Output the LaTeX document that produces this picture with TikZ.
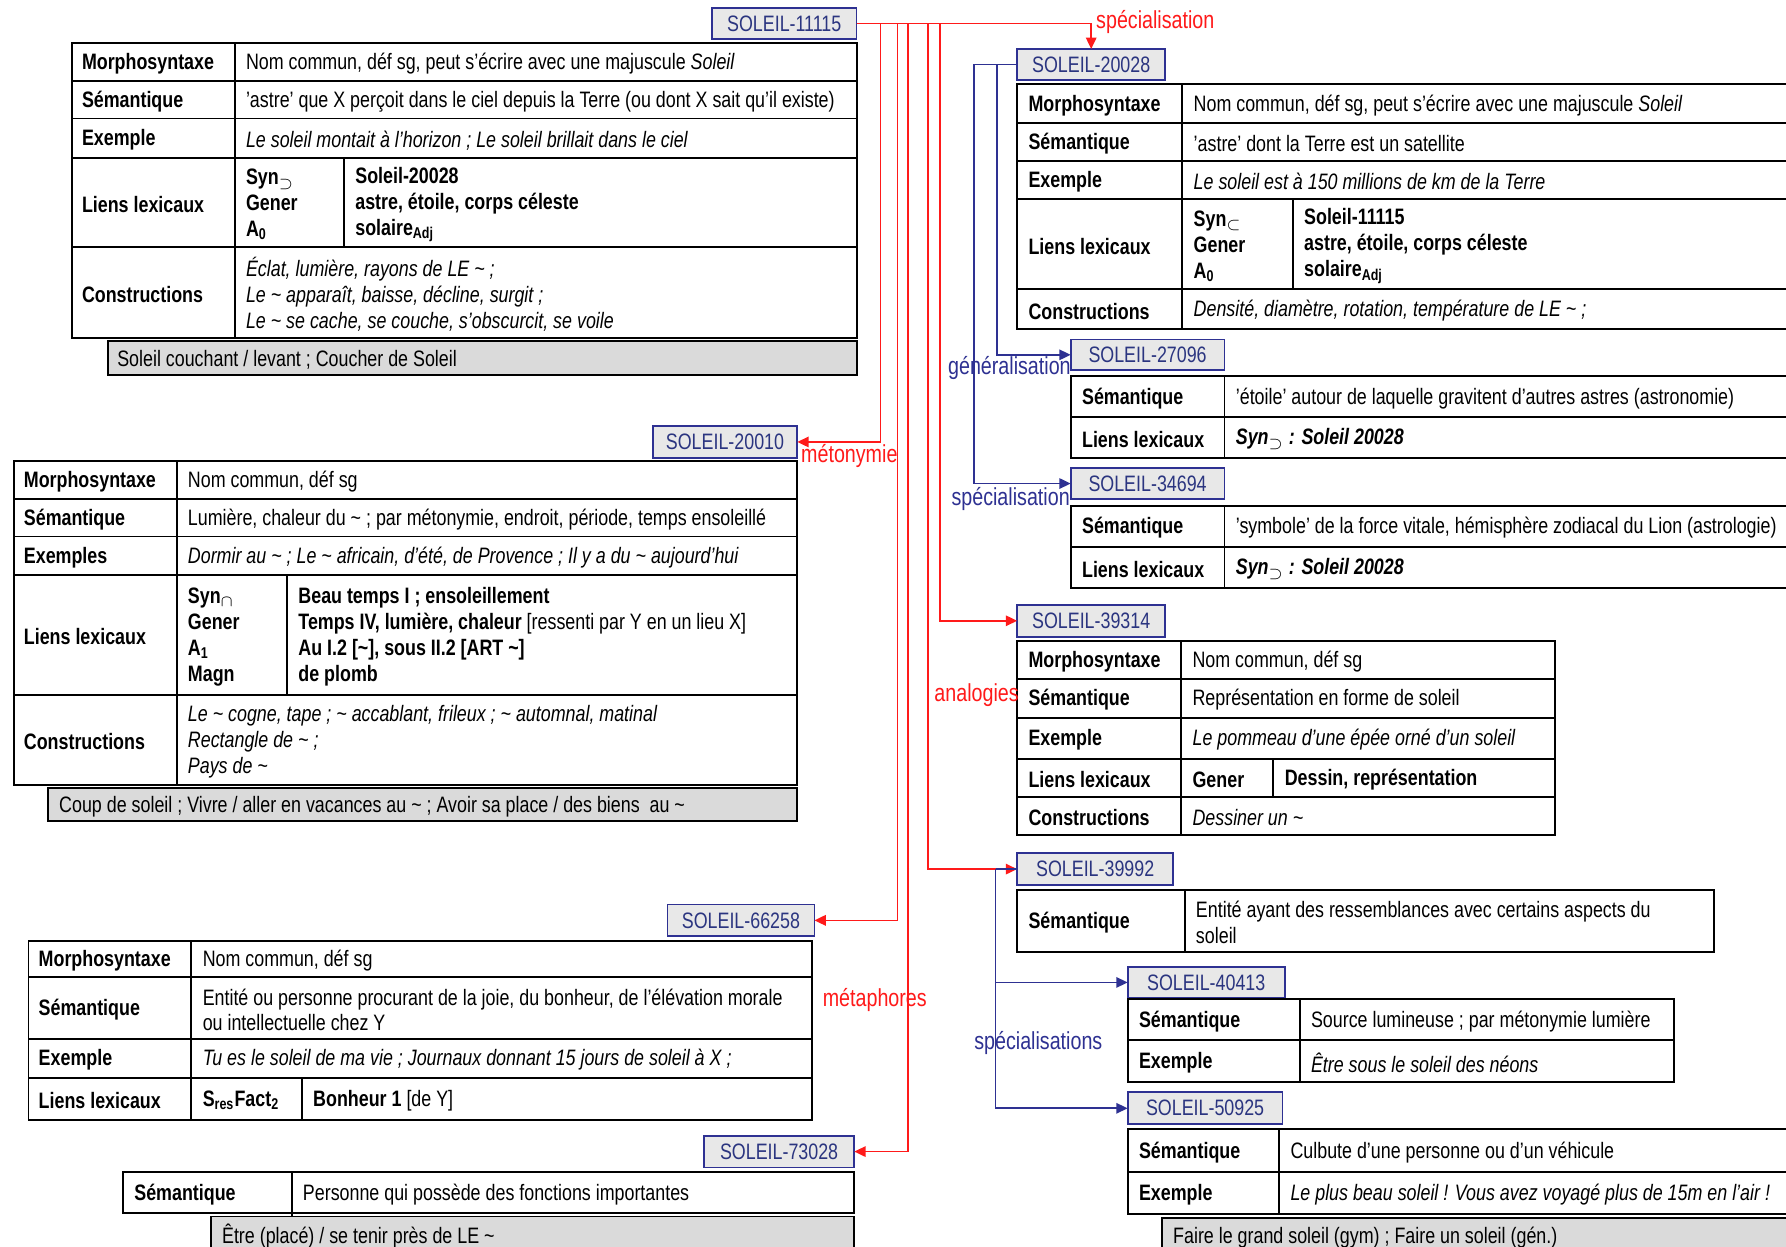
\documentclass[tikz,border=0pt]{standalone}
\usepackage{fontspec}
\setmainfont{Liberation Sans}[FakeStretch=0.80]
\usetikzlibrary{arrows.meta}
\definecolor{redc}{HTML}{FF1A1A}
\definecolor{bluec}{HTML}{2E3192}
\definecolor{hdrgray}{HTML}{E8E8E8}
\definecolor{bargray}{HTML}{DADADA}
\definecolor{hdrtext}{HTML}{2B3580}
\newcommand\myfs{\fontsize{9.8}{11.4}\selectfont}
\newcommand\lblfs{\fontsize{10.8}{12}\selectfont}
\newcommand\tld{\textasciitilde}
\newcommand\subx[1]{\textsubscript{#1}}
\newcounter{cellno}
\newcommand\tcell[4][]{\stepcounter{cellno}\node[val,#1] (cell\arabic{cellno}) at (#2,#3) {#4};}
\newcommand\tgrid[6]{\draw[tbl] (#1,#4) rectangle (#3,#5); \draw[tbl] (#2,#4) -- (#2,#5); \foreach \yy in {#6} {\draw[tbl] (#1,\yy) -- (#3,\yy);}}
\newcommand\hdr[6]{\node[hdrbox, minimum width={(#4-#2)*0.5pt}, minimum height={(#5-#3)*0.5pt}] (#1) at ({(#2+#4)/2},{(#3+#5)/2}) {#6};}
\newcommand\gbar[6]{\fill[bargray] (#1,#2) rectangle (#3,#4); \draw[tbl] (#1,#2) rectangle (#3,#4); \tcell{#5}{{(#2+#4)/2}}{#6}}
\begin{document}
\begin{tikzpicture}[x=0.5pt,y=-0.5pt,
  val/.style={anchor=west, inner sep=0pt, outer sep=0pt, align=left, font=\myfs, yshift=-0.8pt},
  lab/.style={font=\myfs\bfseries},
  it/.style={font=\myfs\itshape},
  tbl/.style={draw=black, line width=0.85pt},
  hdrbox/.style={draw=bluec, fill=hdrgray, line width=0.8pt, text=hdrtext, inner sep=0pt, outer sep=0pt, font=\myfs},
  rarr/.style={draw=redc, line width=0.75pt, -{Triangle[length=5pt,width=4.6pt]}},
  barr/.style={draw=bluec, line width=0.75pt, -{Triangle[length=5pt,width=4.6pt]}},
  rlab/.style={anchor=west, inner sep=0pt, text=redc, font=\lblfs},
  blab/.style={anchor=west, inner sep=0pt, text=bluec, font=\lblfs}]
\useasboundingbox (0,0) rectangle (1568,1094);
\fill[white] (0,0) rectangle (1568,1094);
\clip (0,0) rectangle (1568,1094);

% ---------- headers ----------
\hdr{h11115}{625}{7}{752}{34}{SOLEIL-11115}
\hdr{h20028}{893}{43}{1023}{70}{SOLEIL-20028}
\hdr{h27096}{940}{298}{1075}{325}{SOLEIL-27096}
\hdr{h34694}{940}{411}{1075}{438}{SOLEIL-34694}
\hdr{h39314}{893}{531}{1023}{559}{SOLEIL-39314}
\hdr{h39992}{893}{749}{1030}{777}{SOLEIL-39992}
\hdr{h40413}{990}{849}{1128}{876}{SOLEIL-40413}
\hdr{h50925}{990}{959}{1126}{987}{SOLEIL-50925}
\hdr{h20010}{573}{374}{700}{402}{SOLEIL-20010}
\hdr{h66258}{586}{794}{715}{822}{SOLEIL-66258}
\hdr{h73028}{618}{997}{750}{1025}{SOLEIL-73028}

% ---------- Table A (11115) ----------
\tgrid{63}{206}{752}{38}{297}{71,104,139,217}
\draw[tbl] (302,139) -- (302,217);
\tcell[lab]{72}{54.5}{Morphosyntaxe}
\tcell{216}{54.5}{Nom commun, déf sg, peut s'écrire avec une majuscule \textit{Soleil}}
\tcell[lab]{72}{87.5}{Sémantique}
\tcell{216}{87.5}{'astre' que X perçoit dans le ciel depuis la Terre (ou dont X sait qu'il existe)}
\tcell[lab]{72}{121.5}{Exemple}
\tcell[it]{216}{121.5}{Le soleil montait à l'horizon ; Le soleil brillait dans le ciel}
\tcell[lab]{72}{178}{Liens lexicaux}
\tcell[lab]{216}{178}{Syn\subx{$\supset$}\\Gener\\A\subx{0}}
\tcell[lab]{312}{178}{Soleil-20028\\astre, étoile, corps céleste\\solaire\subx{Adj}}
\tcell[lab]{72}{257}{Constructions}
\tcell[it]{216}{257}{Éclat, lumière, rayons de LE \tld\ ;\\Le \tld\ apparaît, baisse, décline, surgit ;\\Le \tld\ se cache, se couche, s'obscurcit, se voile}
\gbar{95}{299}{752}{329}{103}{Soleil couchant / levant ; Coucher de Soleil}

% ---------- Table B (20028) ----------
\tgrid{893}{1038}{1580}{74}{289}{108,141,175,254}
\draw[tbl] (1135,175) -- (1135,254);
\tcell[lab]{903}{91}{Morphosyntaxe}
\tcell{1048}{91}{Nom commun, déf sg, peut s'écrire avec une majuscule \textit{Soleil}}
\tcell[lab]{903}{124.5}{Sémantique}
\tcell{1048}{124.5}{'astre' dont la Terre est un satellite}
\tcell[lab]{903}{158}{Exemple}
\tcell[it]{1048}{158}{Le soleil est à 150 millions de km de la Terre}
\tcell[lab]{903}{214.5}{Liens lexicaux}
\tcell[lab]{1048}{214.5}{Syn\subx{$\subset$}\\Gener\\A\subx{0}}
\tcell[lab]{1145}{214.5}{Soleil-11115\\astre, étoile, corps céleste\\solaire\subx{Adj}}
\tcell[lab]{903}{271.5}{Constructions}
\tcell[it]{1048}{271.5}{Densité, diamètre, rotation, température de LE \tld\ ;}

% ---------- Table C (27096) ----------
\tgrid{940}{1075}{1580}{330}{402}{366}
\tcell[lab]{950}{348}{Sémantique}
\tcell{1085}{348}{'étoile' autour de laquelle gravitent d'autres astres (astronomie)}
\tcell[lab]{950}{384}{Liens lexicaux}
\tcell{1085}{384}{\textbf{\textit{Syn\subx{$\supset$} : Soleil 20028}}}

% ---------- Table D (34694) ----------
\tgrid{940}{1075}{1580}{444}{516}{480}
\tcell[lab]{950}{462}{Sémantique}
\tcell{1085}{462}{'symbole' de la force vitale, hémisphère zodiacal du Lion (astrologie)}
\tcell[lab]{950}{498}{Liens lexicaux}
\tcell{1085}{498}{\textbf{\textit{Syn\subx{$\supset$} : Soleil 20028}}}

% ---------- Table E (39314) ----------
\tgrid{893}{1037}{1365}{563}{733}{596,630,666,700}
\draw[tbl] (1118,666) -- (1118,700);
\tcell[lab]{903}{579.5}{Morphosyntaxe}
\tcell{1047}{579.5}{Nom commun, déf sg}
\tcell[lab]{903}{613}{Sémantique}
\tcell{1047}{613}{Représentation en forme de soleil}
\tcell[lab]{903}{648}{Exemple}
\tcell[it]{1047}{648}{Le pommeau d'une épée orné d'un soleil}
\tcell[lab]{903}{683}{Liens lexicaux}
\tcell[lab]{1047}{683}{Gener}
\tcell[lab]{1128}{683}{Dessin, représentation}
\tcell[lab]{903}{716.5}{Constructions}
\tcell[it]{1047}{716.5}{Dessiner un \tld}

% ---------- Table F (39992) ----------
\tgrid{893}{1040}{1505}{781}{836}{781}
\tcell[lab]{903}{808.5}{Sémantique}
\tcell{1050}{808.5}{Entité ayant des ressemblances avec certains aspects du\\soleil}

% ---------- Table G (40413) ----------
\tgrid{990}{1141}{1470}{877}{950}{913}
\tcell[lab]{1000}{895}{Sémantique}
\tcell{1151}{895}{Source lumineuse ; par métonymie lumière}
\tcell[lab]{1000}{931.5}{Exemple}
\tcell[it]{1151}{931.5}{Être sous le soleil des néons}

% ---------- Table H (50925) ----------
\tgrid{990}{1123}{1580}{991}{1066}{1029}
\tcell[lab]{1000}{1010}{Sémantique}
\tcell{1133}{1010}{Culbute d'une personne ou d'un véhicule}
\tcell[lab]{1000}{1047.5}{Exemple}
\tcell[it]{1133}{1047.5}{Le plus beau soleil ! Vous avez voyagé plus de 15m en l'air !}
\gbar{1020}{1069}{1580}{1100}{1030}{Faire le grand soleil (gym) ; Faire un soleil (gén.)}

% ---------- Table I (20010) ----------
\tgrid{12}{155}{700}{405}{689}{438,471,505,610}
\draw[tbl] (252,505) -- (252,610);
\tcell[lab]{21}{421.5}{Morphosyntaxe}
\tcell{165}{421.5}{Nom commun, déf sg}
\tcell[lab]{21}{454.5}{Sémantique}
\tcell{165}{454.5}{Lumière, chaleur du \tld\ ; par métonymie, endroit, période, temps ensoleillé}
\tcell[lab]{21}{488}{Exemples}
\tcell[it]{165}{488}{Dormir au \tld\ ; Le \tld\ africain, d'été, de Provence ; Il y a du \tld\ aujourd'hui}
\tcell[lab]{21}{557.5}{Liens lexicaux}
\tcell[lab]{165}{557.5}{Syn\subx{$\cap$}\\Gener\\A\subx{1}\\Magn}
\tcell[lab]{262}{557.5}{Beau temps I ; ensoleillement\\Temps IV, lumière, chaleur \textmd{[ressenti par Y en un lieu X]}\\Au I.2 [\tld], sous II.2 [ART \tld]\\de plomb}
\tcell[lab]{21}{649.5}{Constructions}
\tcell[it]{165}{649.5}{Le \tld\ cogne, tape ; \tld\ accablant, frileux ; \tld\ automnal, matinal\\Rectangle de \tld\ ;\\Pays de \tld}
\gbar{42}{692}{700}{721}{52}{Coup de soleil ; Vivre / aller en vacances au \tld\ ; Avoir sa place / des biens \ au \tld}

% ---------- Table J (66258) ----------
\tgrid{25}{168}{713}{826}{983}{858,912,946}
\draw[tbl] (265,946) -- (265,983);
\tcell[lab]{34}{842}{Morphosyntaxe}
\tcell{178}{842}{Nom commun, déf sg}
\tcell[lab]{34}{885}{Sémantique}
\tcell{178}{885}{Entité ou personne procurant de la joie, du bonheur, de l'élévation morale\\ou intellectuelle chez Y}
\tcell[lab]{34}{929}{Exemple}
\tcell[it]{178}{929}{Tu es le soleil de ma vie ; Journaux donnant 15 jours de soleil à X ;}
\tcell[lab]{34}{964.5}{Liens lexicaux}
\tcell[lab]{178}{964.5}{S\subx{res}Fact\subx{2}}
\tcell{275}{964.5}{\textbf{Bonheur 1} [de Y]}

% ---------- Table K (73028) ----------
\tgrid{108}{256}{750}{1029}{1065}{1029}
\draw[tbl] (256,1065) -- (256,1070);
\tcell[lab]{118}{1047}{Sémantique}
\tcell{266}{1047}{Personne qui possède des fonctions importantes}
\gbar{185}{1068}{750}{1100}{195}{Être (placé) / se tenir près de LE \tld}

% ---------- red connectors ----------
\coordinate (r1) at (773,20.5);
\coordinate (r2) at (788,20.5);
\coordinate (r3) at (797,20.5);
\coordinate (r4) at (815,20.5);
\coordinate (r5) at (825,20.5);
\draw[rarr] (h11115.east) -| (h20028.north);
\draw[rarr] (r1) |- (h20010.east);
\draw[rarr] (r2) |- (h66258.east);
\draw[rarr] (r3) |- (h73028.east);
\draw[rarr] (r4) |- (h39992.west);
\draw[rarr] (r5) |- (h39314.west);

% ---------- blue connectors ----------
\coordinate (b1) at (875,56.5);
\coordinate (b2) at (855,56.5);
\coordinate (b3) at (874,763);
\draw[bluec, line width=0.75pt] (h20028.west) -- (b2);
\draw[barr] (b1) |- (h27096.west);
\draw[barr] (b2) |- (h34694.west);
\draw[bluec, line width=0.75pt] (h39992.west) -- (b3);
\draw[barr] (b3) |- (h40413.west);
\draw[barr] (b3) |- (h50925.west);

% ---------- labels ----------
\node[rlab] (lspec) at (962,19) {spécialisation};
\node[rlab] (lmeto) at (703,400) {métonymie};
\node[rlab] (lmeta) at (722,878) {métaphores};
\node[rlab] (lanal) at (820,610) {analogies};
\node[blab] (lgen) at (832,323) {généralisation};
\node[blab] (lspec2) at (835,438) {spécialisation};
\node[blab] (lspecs) at (855,916) {spécialisations};
\end{tikzpicture}
\end{document}
